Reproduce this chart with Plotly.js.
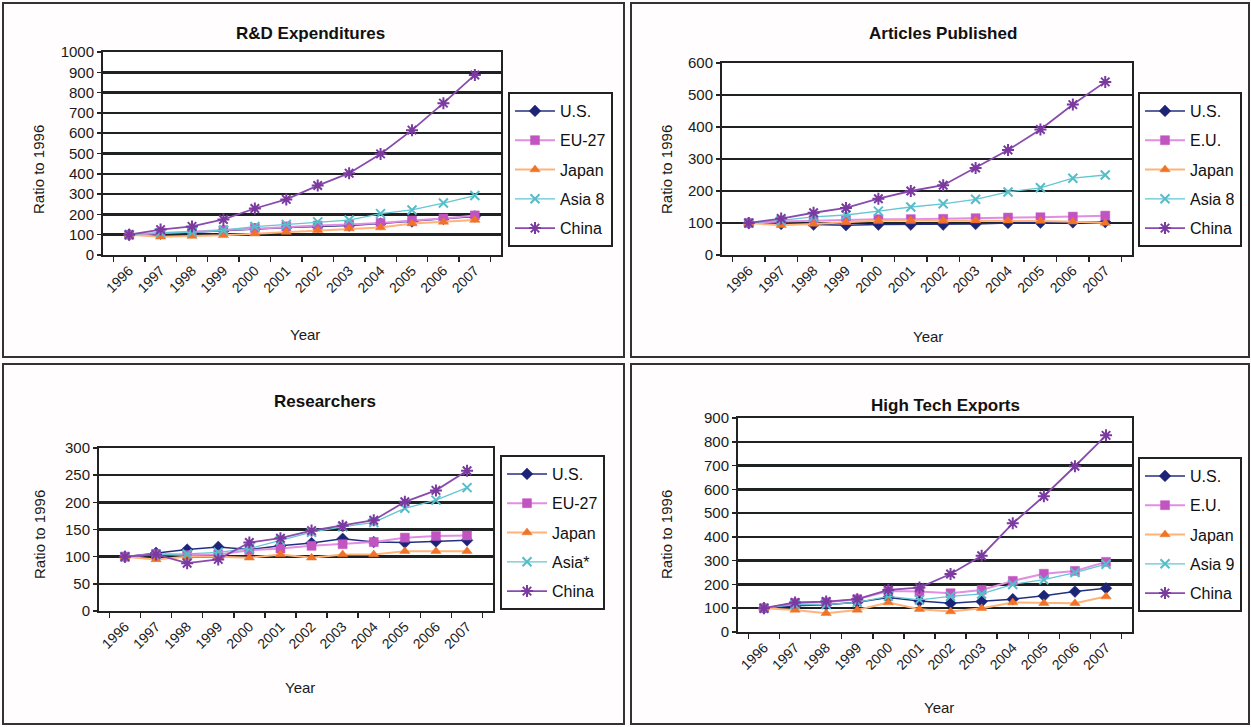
<!DOCTYPE html>
<html>
<head>
<meta charset="utf-8">
<script src="https://cdn.plot.ly/plotly-3.0.1.min.js"></script>
<style>
html,body{margin:0;padding:0;background:#fffdfd;}
#chart{width:1251px;height:727px;}
</style>
</head>
<body>
<div id="chart"></div>
<script>
// ---- data ----
const years = ['1996','1997','1998','1999','2000','2001','2002','2003','2004','2005','2006','2007'];

const panelTitles = ['R&D Expenditures', 'Articles Published', 'Researchers', 'High Tech Exports'];

// R&D Expenditures
const rdNames = ['U.S.', 'EU-27', 'Japan', 'Asia 8', 'China'];
const rdUS   = [100,105,112,120,128,135,140,145,155,165,178,190];
const rdEU   = [100,108,115,122,132,140,145,150,158,170,180,195];
const rdJP   = [100,90,93,97,105,113,122,130,135,155,163,172];
const rdAsia = [100,110,112,122,140,150,163,172,204,222,256,293];
const rdCN   = [100,125,141,175,229,274,342,403,498,615,748,887];

// Articles Published
const arNames = ['U.S.', 'E.U.', 'Japan', 'Asia 8', 'China'];
const arUS   = [100,97,95,93,95,95,95,97,100,101,102,103];
const arEU   = [100,105,107,110,112,112,113,115,117,118,120,123];
const arJP   = [100,93,97,102,108,108,108,108,107,106,104,100];
const arAsia = [100,108,119,125,137,150,160,174,197,210,240,250];
const arCN   = [100,114,132,147,176,200,218,272,328,392,470,541];

// Researchers
const rsNames = ['U.S.', 'EU-27', 'Japan', 'Asia*', 'China'];
const rsUS   = [100,107,113,118,113,120,125,133,127,126,128,130];
const rsEU   = [100,105,103,104,112,115,120,123,127,135,138,139];
const rsJP   = [100,95,100,100,98,104,98,104,104,110,110,110];
const rsAsia = [100,104,105,108,115,130,145,155,163,189,204,227];
const rsCN   = [100,104,88,95,126,134,148,157,167,201,222,258];

// High Tech Exports
const htNames = ['U.S.', 'E.U.', 'Japan', 'Asia 9', 'China'];
const htUS   = [100,110,115,125,145,130,121,128,138,152,170,184];
const htEU   = [100,122,125,138,172,170,163,177,215,245,257,295];
const htJP   = [100,93,79,93,124,96,86,100,124,121,121,149];
const htAsia = [100,115,115,125,150,135,150,160,200,220,250,285];
const htCN   = [100,124,128,138,177,187,244,321,457,571,697,827];

const yRanges = [[0,1000],[0,600],[0,300],[0,900]];
const yDticks = [100,100,50,100];

// ---- styles ----
const styles = [
  {line:'#24307f', marker:'#1c2478', symbol:'diamond', size:9, lw:1.5},
  {line:'#e28ee2', marker:'#c254c2', symbol:'square', size:9, lw:2},
  {line:'#ffb37a', marker:'#f07326', symbol:'triangle-up', size:9, lw:2},
  {line:'#63c6d2', marker:'#55bdc9', symbol:'x-thin-open', size:9, lw:1.3},
  {line:'#8a4aae', marker:'#7a3aa0', symbol:'asterisk-open', size:10, lw:1.8}
];

const panels = [
  {names: rdNames, series: [rdUS, rdEU, rdJP, rdAsia, rdCN]},
  {names: arNames, series: [arUS, arEU, arJP, arAsia, arCN]},
  {names: rsNames, series: [rsUS, rsEU, rsJP, rsAsia, rsCN]},
  {names: htNames, series: [htUS, htEU, htJP, htAsia, htCN]}
];

const W = 1251, H = 727;
const px = x => x / W;
const py = y => 1 - y / H;

// plot area boxes in pixels: [left, right, top, bottom]
const boxes = [
  [103, 501, 52, 255],
  [722, 1132, 63, 255],
  [99, 493, 448, 611],
  [738, 1132, 418, 632]
];
const legendPos = [[508, 92], [1138, 92], [500, 455], [1138, 457]];
const titlePos = [[310, 33], [943, 33], [325, 401], [945, 406]];
const ytitlePos = [[38, 170], [666, 170], [39, 535], [666, 535]];
const xtitlePos = [[305, 334], [928, 337], [300, 687], [939, 707]];
const frames = [[3, 3, 624, 357], [631, 3, 1249, 357], [3, 364, 624, 724], [631, 364, 1249, 724]];

const FONT = 'Liberation Sans, Arial, sans-serif';
const traces = [];
const layout = {
  width: W, height: H,
  margin: {l:0, r:0, t:0, b:0},
  paper_bgcolor: '#fffdfd',
  plot_bgcolor: '#ffffff',
  font: {family: FONT, color: '#1a1a1a'},
  annotations: [],
  shapes: []
};

panels.forEach((p, i) => {
  const n = i + 1;
  const xa = n === 1 ? 'x' : 'x' + n;
  const ya = n === 1 ? 'y' : 'y' + n;
  const lg = n === 1 ? 'legend' : 'legend' + n;
  p.series.forEach((vals, k) => {
    const s = styles[k];
    traces.push({
      type: 'scatter', mode: 'lines+markers',
      x: years, y: vals, name: p.names[k],
      xaxis: xa, yaxis: ya, legend: lg,
      legendgroup: 'p' + n + 's' + k,
      line: {color: s.line, width: s.lw},
      marker: {color: s.marker, symbol: s.symbol, size: s.size,
               line: {color: s.marker, width: (k >= 3 ? 2 : 0.5)}}
    });
  });
  const b = boxes[i];
  const xKey = n === 1 ? 'xaxis' : 'xaxis' + n;
  const yKey = n === 1 ? 'yaxis' : 'yaxis' + n;
  layout[xKey] = {
    domain: [px(b[0]), px(b[1])],
    anchor: ya, type: 'category',
    tickangle: -45, tickson: 'boundaries', ticks: 'outside', ticklen: 5,
    tickcolor: '#222', tickwidth: 1.5,
    showline: true, mirror: true, linecolor: '#222', linewidth: 2,
    showgrid: false, zeroline: false,
    tickfont: {family: FONT, size: 14, color: '#1a1a1a'},
    fixedrange: true
  };
  layout[yKey] = {
    domain: [py(b[3]), py(b[2])],
    anchor: xa, range: yRanges[i], dtick: yDticks[i], tick0: 0,
    ticks: 'outside', ticklen: 4, tickcolor: '#222', tickwidth: 1.5,
    showline: true, mirror: true, linecolor: '#222', linewidth: 2,
    showgrid: true, gridcolor: '#1e2222', gridwidth: 2.5,
    zeroline: false,
    tickfont: {family: FONT, size: 15, color: '#1a1a1a'},
    fixedrange: true
  };
  layout[lg] = {
    x: px(legendPos[i][0]), y: py(legendPos[i][1]),
    xanchor: 'left', yanchor: 'top',
    bgcolor: '#ffffff', bordercolor: '#222', borderwidth: 2,
    font: {family: FONT, size: 16, color: '#111'},
    traceorder: 'grouped', tracegroupgap: 5.5,
    itemwidth: 40
  };
  layout.annotations.push({
    text: '<b>' + panelTitles[i].replace('&', '&amp;') + '</b>',
    xref: 'paper', yref: 'paper', x: px(titlePos[i][0]), y: py(titlePos[i][1]),
    xanchor: 'center', yanchor: 'middle', showarrow: false,
    font: {family: FONT, size: 17, color: '#111'}
  });
  layout.annotations.push({
    text: 'Ratio to 1996',
    xref: 'paper', yref: 'paper', x: px(ytitlePos[i][0]), y: py(ytitlePos[i][1]),
    xanchor: 'center', yanchor: 'middle', showarrow: false, textangle: -90,
    font: {family: FONT, size: 15, color: '#1a1a1a'}
  });
  layout.annotations.push({
    text: 'Year',
    xref: 'paper', yref: 'paper', x: px(xtitlePos[i][0]), y: py(xtitlePos[i][1]),
    xanchor: 'center', yanchor: 'middle', showarrow: false,
    font: {family: FONT, size: 15, color: '#1a1a1a'}
  });
  const f = frames[i];
  layout.shapes.push({
    type: 'rect', xref: 'paper', yref: 'paper', layer: 'below',
    x0: px(f[0]), x1: px(f[2]), y0: py(f[3]), y1: py(f[1]),
    line: {color: '#333', width: 2}, fillcolor: 'rgba(0,0,0,0)'
  });
});

Plotly.newPlot('chart', traces, layout, {staticPlot: true, displayModeBar: false});
</script>
</body>
</html>
